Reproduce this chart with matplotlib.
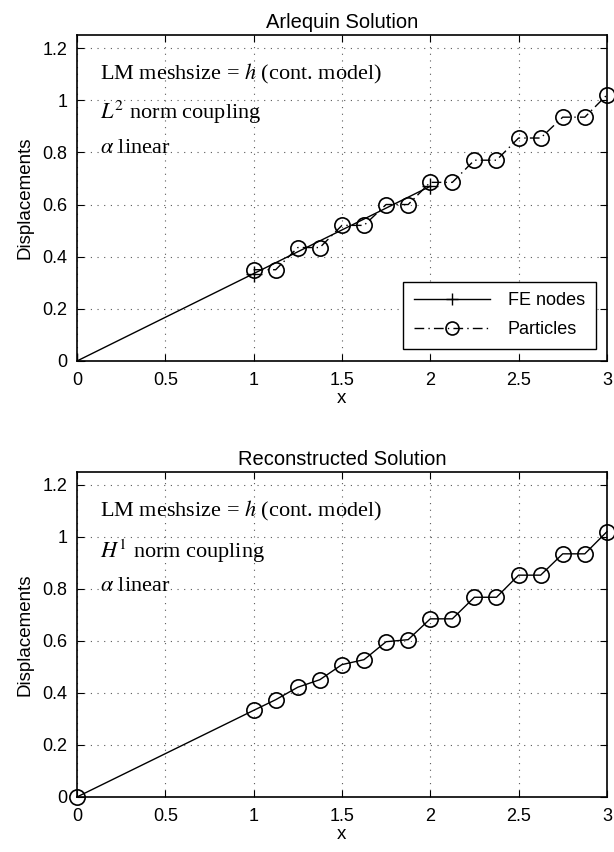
import numpy as np
import matplotlib
matplotlib.use("Agg")
import matplotlib.pyplot as plt

plt.rcParams["font.family"] = ["Liberation Sans", "DejaVu Sans"]
plt.rcParams["mathtext.fontset"] = "stix"

# FE nodes (Arlequin)
fe_x = [0.0, 1.0, 2.0]
fe_y = [0.0, 0.335, 0.67]

# particle positions and displacements (Arlequin)
part_x = [1.0, 1.125, 1.25, 1.375, 1.5, 1.625, 1.75, 1.875, 2.0,
          2.125, 2.25, 2.375, 2.5, 2.625, 2.75, 2.875, 3.0]
part_y = [0.35, 0.35, 0.435, 0.435, 0.52, 0.52, 0.60, 0.60, 0.685,
          0.685, 0.77, 0.77, 0.855, 0.855, 0.935, 0.935, 1.02]

# reconstructed solution
rec_x = [0.0, 1.0, 1.125, 1.25, 1.375, 1.5, 1.625, 1.75, 1.875, 2.0,
         2.125, 2.25, 2.375, 2.5, 2.625, 2.75, 2.875, 3.0]
rec_y = [0.0, 0.333, 0.374, 0.422, 0.451, 0.509, 0.528, 0.597, 0.605,
         0.685, 0.685, 0.768, 0.768, 0.853, 0.853, 0.935, 0.935, 1.02]

xticks = [0, 0.5, 1, 1.5, 2, 2.5, 3]
xticklabels = ["0", "0.5", "1", "1.5", "2", "2.5", "3"]
yticks = [0, 0.2, 0.4, 0.6, 0.8, 1.0, 1.2]
yticklabels = ["0", "0.2", "0.4", "0.6", "0.8", "1", "1.2"]

top_notes = [r"LM meshsize = $h$ (cont. model)", r"$L^2$ norm coupling",
             r"$\alpha$ linear"]
bot_notes = [r"LM meshsize = $h$ (cont. model)", r"$H^1$ norm coupling",
             r"$\alpha$ linear"]
note_y_top = [1.10, 0.955, 0.815]
note_y_bot = [1.10, 0.945, 0.81]

TICK_FS = 13
LABEL_FS = 13.5
TITLE_FS = 14.5


def style_axes(ax, title):
    ax.set_xlim(0, 3)
    ax.set_ylim(0, 1.25)
    ax.set_xticks(xticks)
    ax.set_xticklabels(xticklabels)
    ax.set_yticks(yticks)
    ax.set_yticklabels(yticklabels)
    ax.tick_params(direction="in", top=True, right=True, length=5,
                   width=0.8, labelsize=TICK_FS)
    ax.tick_params(axis="x", pad=8)
    ax.tick_params(axis="y", pad=7)
    ax.grid(True, color="0.35", linestyle=(0, (1, 5)), linewidth=0.8)
    for s in ax.spines.values():
        s.set_linewidth(1.2)
    ax.set_title(title, fontsize=TITLE_FS, pad=5)
    ax.set_xlabel("x", fontsize=LABEL_FS, labelpad=1)
    ax.set_ylabel("Displacements", fontsize=LABEL_FS, labelpad=6)


def add_notes(ax, notes, ys):
    for t, y in zip(notes, ys):
        ax.text(0.13, y, t, fontsize=16, va="center", ha="left",
                family="Liberation Serif")


fig = plt.figure(figsize=(6.14, 8.52), dpi=100)
ax1 = fig.add_axes([0.1254, 0.5763, 0.863, 0.3826])
ax2 = fig.add_axes([0.1254, 0.0646, 0.863, 0.3815])

ax1.plot(fe_x, fe_y, "-", color="k", marker="+", markersize=11,
         markeredgewidth=1.0, linewidth=1.0, label="FE nodes")
ax1.plot(part_x, part_y, color="k", linestyle=(0, (7, 3, 1, 3)),
         marker="o", markersize=11, markerfacecolor="none",
         markeredgewidth=1.2, linewidth=1.0, label="Particles",
         clip_on=False)
style_axes(ax1, "Arlequin Solution")
add_notes(ax1, top_notes, note_y_top)
leg = ax1.legend(loc="lower right", fontsize=TICK_FS, fancybox=False,
                 framealpha=1, edgecolor="k", borderpad=0.6,
                 handlelength=4.2, labelspacing=0.65, handletextpad=1.0,
                 borderaxespad=0, bbox_to_anchor=(0.979, 0.037),
                 markerscale=0.85)
leg.get_frame().set_linewidth(1.0)

ax2.plot(rec_x, rec_y, "-", color="k", marker="o", markersize=11,
         markerfacecolor="none", markeredgewidth=1.2, linewidth=1.0,
         clip_on=False)
style_axes(ax2, "Reconstructed Solution")
add_notes(ax2, bot_notes, note_y_bot)

fig.savefig("out.png", dpi=100)
